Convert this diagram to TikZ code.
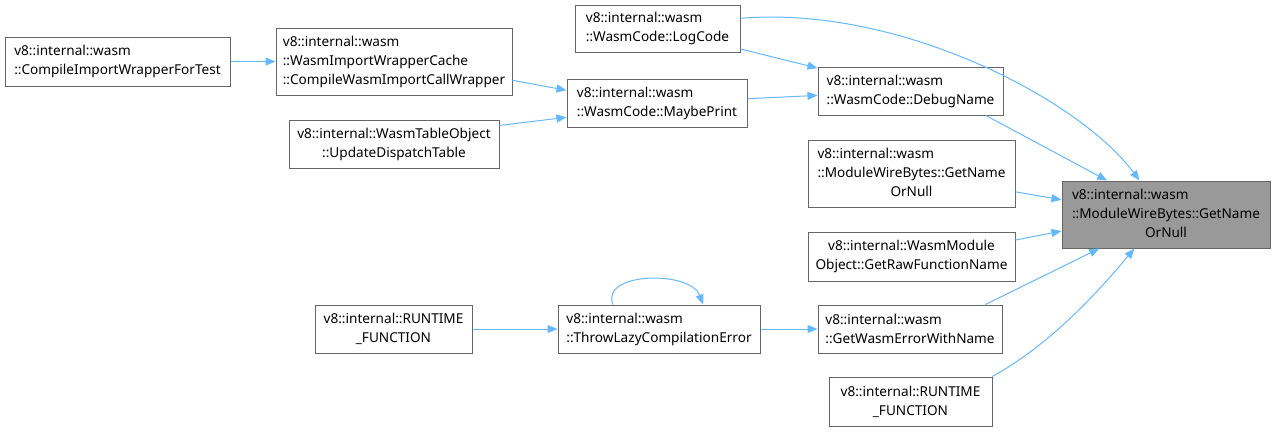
\documentclass[tikz,border=0pt]{standalone}
\usepackage{fontspec}
\setmainfont{Noto Sans}
\usetikzlibrary{arrows.meta}
\definecolor{edgeblue}{RGB}{99,184,255}
\definecolor{boxgray}{RGB}{102,102,102}
\definecolor{hilite}{RGB}{153,153,153}

\begin{document}
\begin{tikzpicture}[x=0.75pt, y=-0.75pt,
  fn/.style={draw=boxgray, fill=white, inner sep=0pt, line width=0.75pt,
    font=\fontsize{10.2}{14.25}\selectfont},
  size/.style 2 args={minimum width={#1*0.75pt}, minimum height={#2*0.75pt}},
  link/.style={draw=edgeblue, line width=0.75pt, -{Triangle[length=7.5pt, width=6pt]}}]
  \useasboundingbox (0,0) rectangle (1275,433);

  \node[fn, size={225}{49}, align=left] (cw) at (117.5,61.5) {v8::internal::wasm\\::CompileImportWrapperForTest};
  \node[fn, size={236}{67}, align=left] (wc) at (394,61.5) {v8::internal::wasm\\::WasmImportWrapperCache\\::CompileWasmImportCallWrapper};
  \node[fn, size={210}{48}, align=center] (ud) at (394,144) {v8::internal::WasmTableObject\\::UpdateDispatchTable};
  \node[fn, size={165}{47}, align=left] (lc) at (657.5,28.5) {v8::internal::wasm\\::WasmCode::LogCode};
  \node[fn, size={180}{48}, align=left] (mp) at (657,103) {v8::internal::wasm\\::WasmCode::MaybePrint};
  \node[fn, size={185}{48}, align=left] (dn) at (910.5,91) {v8::internal::wasm\\::WasmCode::DebugName};
  \node[fn, size={207}{67}] (gn) at (911.5,173.5) {\begin{tabular}{@{}l@{}}v8::internal::wasm\\::ModuleWireBytes::GetName\\\multicolumn{1}{@{}c@{}}{OrNull}\end{tabular}};
  \node[fn, size={208}{67}, fill=hilite] (tg) at (1166,214.5) {\begin{tabular}{@{}l@{}}v8::internal::wasm\\::ModuleWireBytes::GetName\\\multicolumn{1}{@{}c@{}}{OrNull}\end{tabular}};
  \node[fn, size={207}{49}, align=center] (ro) at (911.5,256.5) {v8::internal::WasmModule\\Object::GetRawFunctionName};
  \node[fn, size={157}{48}, align=center] (rf) at (393.5,329) {v8::internal::RUNTIME\\\_FUNCTION};
  \node[fn, size={202}{48}, align=left] (tl) at (659,329) {v8::internal::wasm\\::ThrowLazyCompilationError};
  \node[fn, size={184}{48}, align=left] (ge) at (910,329) {v8::internal::wasm\\::GetWasmErrorWithName};
  \node[fn, size={163}{49}, align=center] (rb) at (910.5,401.5) {v8::internal::RUNTIME\\\_FUNCTION};

  \draw[link] (cw) -- (wc);
  \draw[link] (wc.-9) -- (mp.172);
  \draw[link] (ud.10) -- (mp.-171);
  \draw[link] (mp) -- (dn);
  \draw[link] (lc) -- (dn);
  \draw[link] (lc.7) .. controls (900,5) and (1080,100) .. (tg.128);
  \draw[link] (dn.-18) -- (tg.150);
  \draw[link] (gn.-10) -- (tg.172);
  \draw[link] (ro.9) -- (tg.-171);
  \draw[link] (ge.18) -- (tg.-153);
  \draw[link] (rb.17) .. controls (1050,345) and (1100,290) .. (tg.-133);
  \draw[link] (rf) -- (tl);
  \draw[link] (tl) -- (ge);
  \draw[link] (tl.152) .. controls (600,272) and (690,270) .. (tl.29);
\end{tikzpicture}
\end{document}
